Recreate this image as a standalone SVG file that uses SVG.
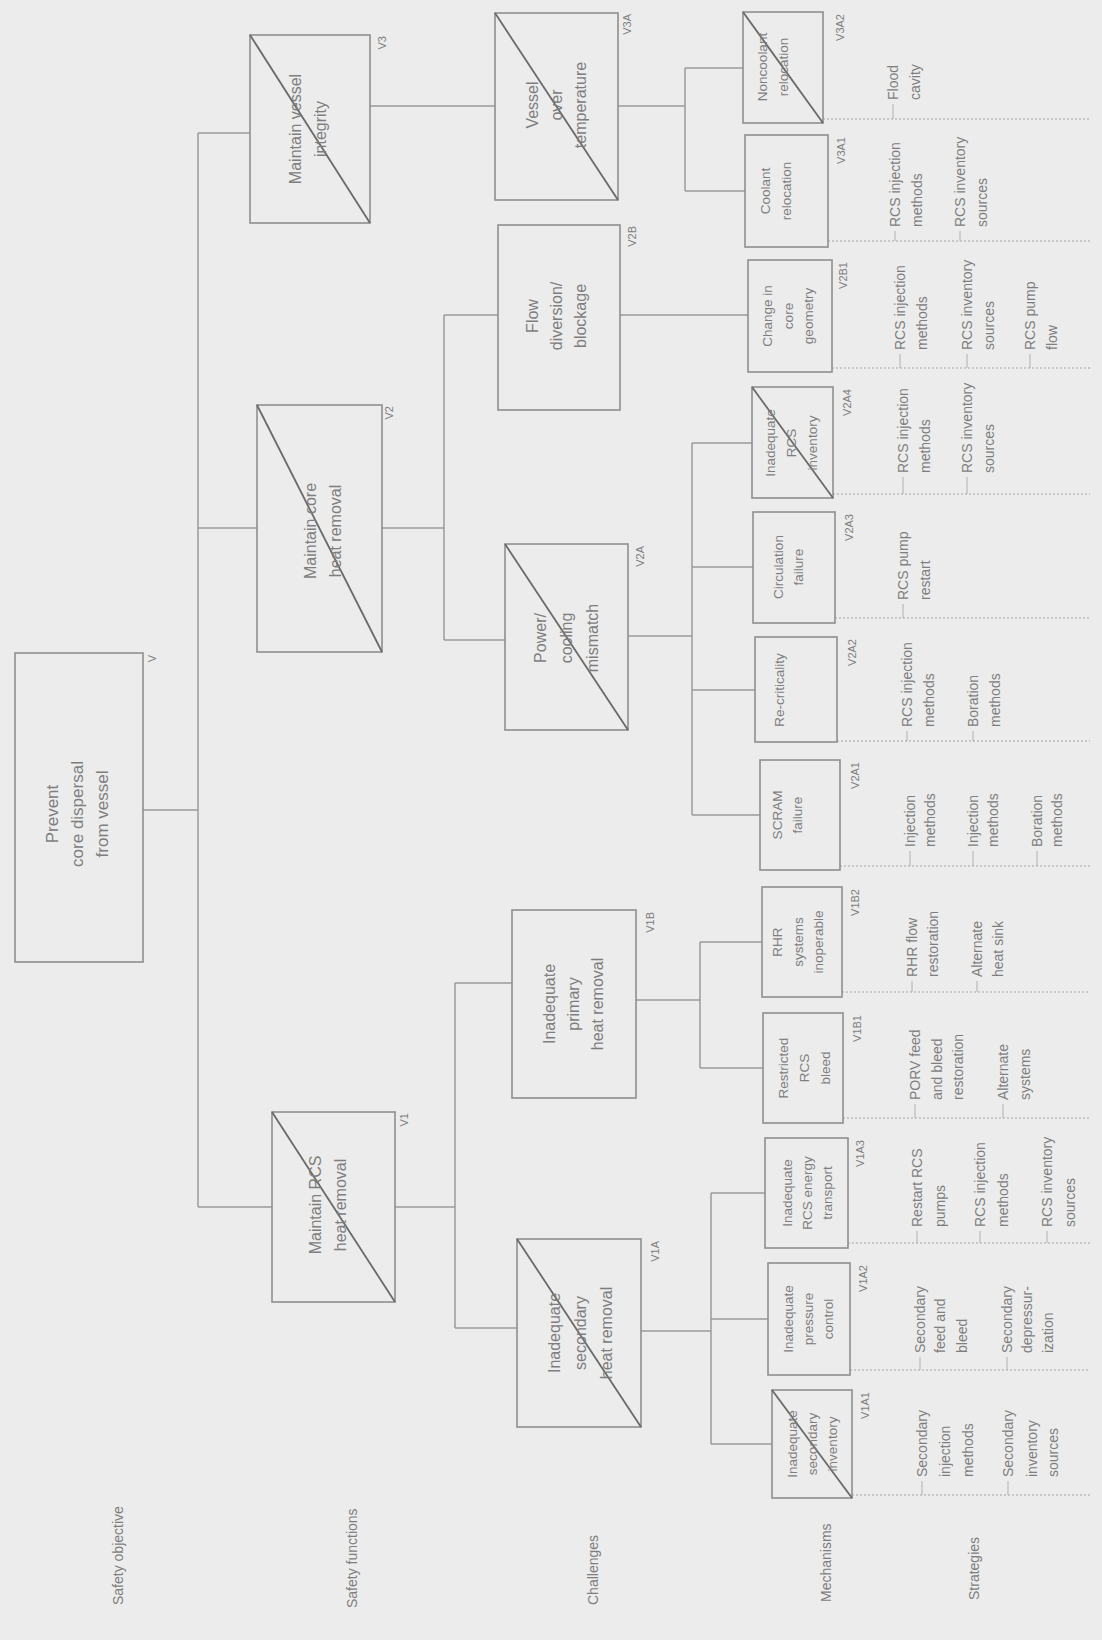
<svg xmlns="http://www.w3.org/2000/svg" width="1102" height="1640" viewBox="0 0 1102 1640">
<style>
.bg{fill:#ececec}
.box{fill:none;stroke:#8f8f8f;stroke-width:1.6}
.x{stroke:#6a6a6a;stroke-width:1.8}
.c{fill:none;stroke:#9a9a9a;stroke-width:1.5}
.sep{fill:none;stroke:#a3a3a3;stroke-width:1.2;stroke-dasharray:2 2}
.tk{stroke:#b0b0b0;stroke-width:1}
text{font-family:"Liberation Sans",Arial,sans-serif;fill:#7e7e7e}
.f17{font-size:17px}
.f16{font-size:16px}
.m{font-size:13.5px}
.s{font-size:14px}
.lb{font-size:11px}
.row{font-size:14px}
</style>
<rect class="bg" x="0" y="0" width="1102" height="1640"/>

<g id="connectors">
<path class="c" d="M143,810H198M198,133V1207M198,133H250M198,528H257M198,1207H272"/>
<path class="c" d="M370,106H495"/>
<path class="c" d="M382,528H444M444,315V640M444,315H498M444,640H505"/>
<path class="c" d="M395,1207H455M455,983V1328M455,983H512M455,1328H517"/>
<path class="c" d="M618,106H685M685,68V191M685,68H743M685,191H745"/>
<path class="c" d="M620,315H748"/>
<path class="c" d="M628,636H692M692,443V815M692,443H752M692,567H753M692,690H755M692,815H760"/>
<path class="c" d="M636,1000H700M700,942V1068M700,942H762M700,1068H763"/>
<path class="c" d="M641,1331H711M711,1193V1444M711,1193H765M711,1319H768M711,1444H772"/>
</g>

<g id="separators">
<path class="sep" d="M823,119H1090M828,241H1090M832,368H1090M833,494H1090M835,618H1090M837,741H1090M840,866H1090M842,992H1090M843,1118H1090M848,1243H1090M850,1370H1090M852,1495H1090"/>
<path class="tk" d="M893,104V119M895,231V241M960,231V241M900,354V368M967,354V368M1030,354V368M903,477V494M967,477V494M903,604V618M907,731V741M973,731V741M910,851V866M973,851V866M1037,851V866M912,981V992M977,981V992M915,1104V1118M1003,1104V1118M917,1231V1243M980,1231V1243M1047,1231V1243M920,1357V1370M1007,1357V1370M922,1481V1495M1008,1481V1495"/>
</g>

<g id="row-labels">
<text class="row" transform="translate(118,1605) rotate(-90)"><tspan x="0" y="5">Safety objective</tspan></text>
<text class="row" transform="translate(352,1608) rotate(-90)"><tspan x="0" y="5">Safety functions</tspan></text>
<text class="row" transform="translate(593,1605) rotate(-90)"><tspan x="0" y="5">Challenges</tspan></text>
<text class="row" transform="translate(826,1602) rotate(-90)"><tspan x="0" y="5">Mechanisms</tspan></text>
<text class="row" transform="translate(974,1600) rotate(-90)"><tspan x="0" y="5">Strategies</tspan></text>
</g>

<!-- Safety objective -->
<g id="V">
<rect class="box" x="15" y="653" width="128" height="309"/>
<text class="f17" text-anchor="middle" transform="translate(52,814) rotate(-90)"><tspan x="0" y="6">Prevent</tspan><tspan x="0" y="31">core dispersal</tspan><tspan x="0" y="56">from vessel</tspan></text>
<text class="lb" text-anchor="end" transform="translate(152,655) rotate(-90)"><tspan x="0" y="4">V</tspan></text>
</g>

<!-- Safety functions -->
<g id="V3">
<rect class="box" x="250" y="35" width="120" height="188"/>
<line class="x" x1="250" y1="35" x2="370" y2="223"/>
<text class="f16" text-anchor="middle" transform="translate(295,129) rotate(-90)"><tspan x="0" y="6">Maintain vessel</tspan><tspan x="0" y="31">integrity</tspan></text>
<text class="lb" text-anchor="end" transform="translate(382,36) rotate(-90)"><tspan x="0" y="4">V3</tspan></text>
</g>
<g id="V2">
<rect class="box" x="257" y="405" width="125" height="247"/>
<line class="x" x1="257" y1="405" x2="382" y2="652"/>
<text class="f16" text-anchor="middle" transform="translate(310,531) rotate(-90)"><tspan x="0" y="6">Maintain core</tspan><tspan x="0" y="31">heat removal</tspan></text>
<text class="lb" text-anchor="end" transform="translate(389,406) rotate(-90)"><tspan x="0" y="4">V2</tspan></text>
</g>
<g id="V1">
<rect class="box" x="272" y="1112" width="123" height="190"/>
<line class="x" x1="272" y1="1112" x2="395" y2="1302"/>
<text class="f16" text-anchor="middle" transform="translate(315,1205) rotate(-90)"><tspan x="0" y="6">Maintain RCS</tspan><tspan x="0" y="31">heat removal</tspan></text>
<text class="lb" text-anchor="end" transform="translate(404,1113) rotate(-90)"><tspan x="0" y="4">V1</tspan></text>
</g>

<!-- Challenges -->
<g id="V3A">
<rect class="box" x="495" y="13" width="123" height="187"/>
<line class="x" x1="495" y1="13" x2="618" y2="200"/>
<text class="f16" text-anchor="middle" transform="translate(532,105) rotate(-90)"><tspan x="0" y="6">Vessel</tspan><tspan x="0" y="30">over</tspan><tspan x="0" y="54">temperature</tspan></text>
<text class="lb" text-anchor="end" transform="translate(627,14) rotate(-90)"><tspan x="0" y="4">V3A</tspan></text>
</g>
<g id="V2B">
<rect class="box" x="498" y="225" width="122" height="185"/>
<text class="f16" text-anchor="middle" transform="translate(532,316) rotate(-90)"><tspan x="0" y="6">Flow</tspan><tspan x="0" y="30">diversion/</tspan><tspan x="0" y="54">blockage</tspan></text>
<text class="lb" text-anchor="end" transform="translate(632,226) rotate(-90)"><tspan x="0" y="4">V2B</tspan></text>
</g>
<g id="V2A">
<rect class="box" x="505" y="544" width="123" height="186"/>
<line class="x" x1="505" y1="544" x2="628" y2="730"/>
<text class="f16" text-anchor="middle" transform="translate(540,638) rotate(-90)"><tspan x="0" y="6">Power/</tspan><tspan x="0" y="32">cooling</tspan><tspan x="0" y="58">mismatch</tspan></text>
<text class="lb" text-anchor="end" transform="translate(640,546) rotate(-90)"><tspan x="0" y="4">V2A</tspan></text>
</g>
<g id="V1B">
<rect class="box" x="512" y="910" width="124" height="188"/>
<text class="f16" text-anchor="middle" transform="translate(549,1004) rotate(-90)"><tspan x="0" y="6">Inadequate</tspan><tspan x="0" y="30">primary</tspan><tspan x="0" y="54">heat removal</tspan></text>
<text class="lb" text-anchor="end" transform="translate(650,912) rotate(-90)"><tspan x="0" y="4">V1B</tspan></text>
</g>
<g id="V1A">
<rect class="box" x="517" y="1239" width="124" height="188"/>
<line class="x" x1="517" y1="1239" x2="641" y2="1427"/>
<text class="f16" text-anchor="middle" transform="translate(554,1333) rotate(-90)"><tspan x="0" y="6">Inadequate</tspan><tspan x="0" y="32">secondary</tspan><tspan x="0" y="58">heat removal</tspan></text>
<text class="lb" text-anchor="end" transform="translate(655,1241) rotate(-90)"><tspan x="0" y="4">V1A</tspan></text>
</g>

<!-- Mechanisms and strategies -->
<g id="V3A2">
<rect class="box" x="743" y="12" width="80" height="111"/>
<line class="x" x1="743" y1="12" x2="823" y2="123"/>
<text class="m" text-anchor="middle" transform="translate(762,67) rotate(-90)"><tspan x="0" y="5">Noncoolant</tspan><tspan x="0" y="26">relocation</tspan></text>
<text class="lb" text-anchor="end" transform="translate(840,14) rotate(-90)"><tspan x="0" y="4">V3A2</tspan></text>
<text class="s" transform="translate(893,100) rotate(-90)"><tspan x="0" y="5">Flood</tspan><tspan x="0" y="27">cavity</tspan></text>
</g>
<g id="V3A1">
<rect class="box" x="745" y="135" width="83" height="112"/>
<text class="m" text-anchor="middle" transform="translate(765,191) rotate(-90)"><tspan x="0" y="5">Coolant</tspan><tspan x="0" y="26">relocation</tspan></text>
<text class="lb" text-anchor="end" transform="translate(841,137) rotate(-90)"><tspan x="0" y="4">V3A1</tspan></text>
<text class="s" transform="translate(895,227) rotate(-90)"><tspan x="0" y="5">RCS injection</tspan><tspan x="0" y="27">methods</tspan></text>
<text class="s" transform="translate(960,227) rotate(-90)"><tspan x="0" y="5">RCS inventory</tspan><tspan x="0" y="27">sources</tspan></text>
</g>
<g id="V2B1">
<rect class="box" x="748" y="260" width="84" height="112"/>
<text class="m" text-anchor="middle" transform="translate(767,316) rotate(-90)"><tspan x="0" y="5">Change in</tspan><tspan x="0" y="26">core</tspan><tspan x="0" y="46">geometry</tspan></text>
<text class="lb" text-anchor="end" transform="translate(843,262) rotate(-90)"><tspan x="0" y="4">V2B1</tspan></text>
<text class="s" transform="translate(900,350) rotate(-90)"><tspan x="0" y="5">RCS injection</tspan><tspan x="0" y="27">methods</tspan></text>
<text class="s" transform="translate(967,350) rotate(-90)"><tspan x="0" y="5">RCS inventory</tspan><tspan x="0" y="27">sources</tspan></text>
<text class="s" transform="translate(1030,350) rotate(-90)"><tspan x="0" y="5">RCS pump</tspan><tspan x="0" y="27">flow</tspan></text>
</g>
<g id="V2A4">
<rect class="box" x="752" y="387" width="81" height="111"/>
<line class="x" x1="752" y1="387" x2="833" y2="498"/>
<text class="m" text-anchor="middle" transform="translate(770,443) rotate(-90)"><tspan x="0" y="5">Inadequate</tspan><tspan x="0" y="26">RCS</tspan><tspan x="0" y="47">inventory</tspan></text>
<text class="lb" text-anchor="end" transform="translate(847,389) rotate(-90)"><tspan x="0" y="4">V2A4</tspan></text>
<text class="s" transform="translate(903,473) rotate(-90)"><tspan x="0" y="5">RCS injection</tspan><tspan x="0" y="27">methods</tspan></text>
<text class="s" transform="translate(967,473) rotate(-90)"><tspan x="0" y="5">RCS inventory</tspan><tspan x="0" y="27">sources</tspan></text>
</g>
<g id="V2A3">
<rect class="box" x="753" y="512" width="82" height="111"/>
<text class="m" text-anchor="middle" transform="translate(778,567) rotate(-90)"><tspan x="0" y="5">Circulation</tspan><tspan x="0" y="25">failure</tspan></text>
<text class="lb" text-anchor="end" transform="translate(849,514) rotate(-90)"><tspan x="0" y="4">V2A3</tspan></text>
<text class="s" transform="translate(903,600) rotate(-90)"><tspan x="0" y="5">RCS pump</tspan><tspan x="0" y="27">restart</tspan></text>
</g>
<g id="V2A2">
<rect class="box" x="755" y="637" width="82" height="105"/>
<text class="m" text-anchor="middle" transform="translate(779,690) rotate(-90)"><tspan x="0" y="5">Re-criticality</tspan></text>
<text class="lb" text-anchor="end" transform="translate(852,639) rotate(-90)"><tspan x="0" y="4">V2A2</tspan></text>
<text class="s" transform="translate(907,727) rotate(-90)"><tspan x="0" y="5">RCS injection</tspan><tspan x="0" y="27">methods</tspan></text>
<text class="s" transform="translate(973,727) rotate(-90)"><tspan x="0" y="5">Boration</tspan><tspan x="0" y="27">methods</tspan></text>
</g>
<g id="V2A1">
<rect class="box" x="760" y="760" width="80" height="110"/>
<text class="m" text-anchor="middle" transform="translate(777,815) rotate(-90)"><tspan x="0" y="5">SCRAM</tspan><tspan x="0" y="25">failure</tspan></text>
<text class="lb" text-anchor="end" transform="translate(855,762) rotate(-90)"><tspan x="0" y="4">V2A1</tspan></text>
<text class="s" transform="translate(910,847) rotate(-90)"><tspan x="0" y="5">Injection</tspan><tspan x="0" y="25">methods</tspan></text>
<text class="s" transform="translate(973,847) rotate(-90)"><tspan x="0" y="5">Injection</tspan><tspan x="0" y="25">methods</tspan></text>
<text class="s" transform="translate(1037,847) rotate(-90)"><tspan x="0" y="5">Boration</tspan><tspan x="0" y="25">methods</tspan></text>
</g>
<g id="V1B2">
<rect class="box" x="762" y="887" width="80" height="110"/>
<text class="m" text-anchor="middle" transform="translate(777,942) rotate(-90)"><tspan x="0" y="5">RHR</tspan><tspan x="0" y="26">systems</tspan><tspan x="0" y="46">inoperable</tspan></text>
<text class="lb" text-anchor="end" transform="translate(855,889) rotate(-90)"><tspan x="0" y="4">V1B2</tspan></text>
<text class="s" transform="translate(912,977) rotate(-90)"><tspan x="0" y="5">RHR flow</tspan><tspan x="0" y="26">restoration</tspan></text>
<text class="s" transform="translate(977,977) rotate(-90)"><tspan x="0" y="5">Alternate</tspan><tspan x="0" y="26">heat sink</tspan></text>
</g>
<g id="V1B1">
<rect class="box" x="763" y="1013" width="80" height="110"/>
<text class="m" text-anchor="middle" transform="translate(783,1068) rotate(-90)"><tspan x="0" y="5">Restricted</tspan><tspan x="0" y="26">RCS</tspan><tspan x="0" y="47">bleed</tspan></text>
<text class="lb" text-anchor="end" transform="translate(857,1015) rotate(-90)"><tspan x="0" y="4">V1B1</tspan></text>
<text class="s" transform="translate(915,1100) rotate(-90)"><tspan x="0" y="5">PORV feed</tspan><tspan x="0" y="27">and bleed</tspan><tspan x="0" y="48">restoration</tspan></text>
<text class="s" transform="translate(1003,1100) rotate(-90)"><tspan x="0" y="5">Alternate</tspan><tspan x="0" y="27">systems</tspan></text>
</g>
<g id="V1A3">
<rect class="box" x="765" y="1138" width="83" height="110"/>
<text class="m" text-anchor="middle" transform="translate(787,1193) rotate(-90)"><tspan x="0" y="5">Inadequate</tspan><tspan x="0" y="25">RCS energy</tspan><tspan x="0" y="45">transport</tspan></text>
<text class="lb" text-anchor="end" transform="translate(860,1140) rotate(-90)"><tspan x="0" y="4">V1A3</tspan></text>
<text class="s" transform="translate(917,1227) rotate(-90)"><tspan x="0" y="5">Restart RCS</tspan><tspan x="0" y="28">pumps</tspan></text>
<text class="s" transform="translate(980,1227) rotate(-90)"><tspan x="0" y="5">RCS injection</tspan><tspan x="0" y="28">methods</tspan></text>
<text class="s" transform="translate(1047,1227) rotate(-90)"><tspan x="0" y="5">RCS inventory</tspan><tspan x="0" y="28">sources</tspan></text>
</g>
<g id="V1A2">
<rect class="box" x="768" y="1263" width="82" height="112"/>
<text class="m" text-anchor="middle" transform="translate(788,1319) rotate(-90)"><tspan x="0" y="5">Inadequate</tspan><tspan x="0" y="25">pressure</tspan><tspan x="0" y="45">control</tspan></text>
<text class="lb" text-anchor="end" transform="translate(863,1265) rotate(-90)"><tspan x="0" y="4">V1A2</tspan></text>
<text class="s" transform="translate(920,1353) rotate(-90)"><tspan x="0" y="5">Secondary</tspan><tspan x="0" y="25">feed and</tspan><tspan x="0" y="47">bleed</tspan></text>
<text class="s" transform="translate(1007,1353) rotate(-90)"><tspan x="0" y="5">Secondary</tspan><tspan x="0" y="25">depressur-</tspan><tspan x="0" y="46">ization</tspan></text>
</g>
<g id="V1A1">
<rect class="box" x="772" y="1390" width="80" height="108"/>
<line class="x" x1="772" y1="1390" x2="852" y2="1498"/>
<text class="m" text-anchor="middle" transform="translate(792,1444) rotate(-90)"><tspan x="0" y="5">Inadequate</tspan><tspan x="0" y="25">secondary</tspan><tspan x="0" y="45">inventory</tspan></text>
<text class="lb" text-anchor="end" transform="translate(865,1392) rotate(-90)"><tspan x="0" y="4">V1A1</tspan></text>
<text class="s" transform="translate(922,1477) rotate(-90)"><tspan x="0" y="5">Secondary</tspan><tspan x="0" y="28">injection</tspan><tspan x="0" y="51">methods</tspan></text>
<text class="s" transform="translate(1008,1477) rotate(-90)"><tspan x="0" y="5">Secondary</tspan><tspan x="0" y="29">inventory</tspan><tspan x="0" y="50">sources</tspan></text>
</g>
</svg>
